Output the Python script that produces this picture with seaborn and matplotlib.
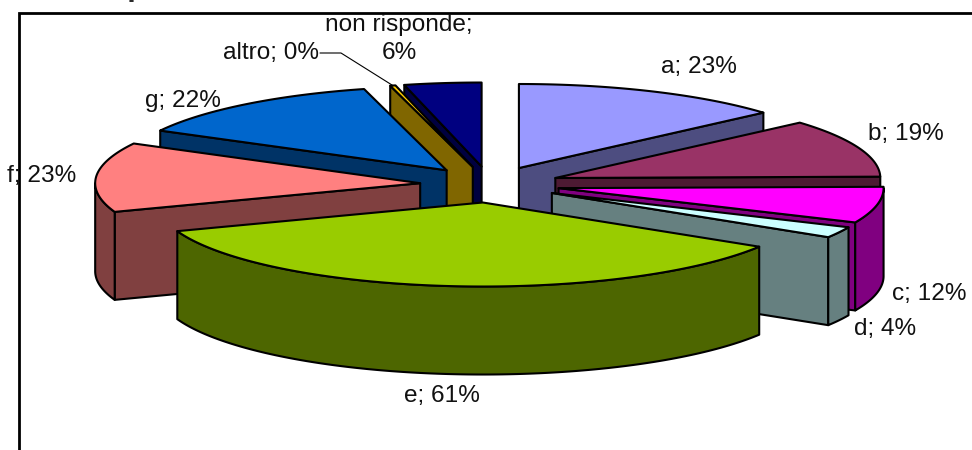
import numpy as np
import pandas as pd
import matplotlib
matplotlib.use("Agg")
import matplotlib.pyplot as plt
from matplotlib.patches import Polygon
import seaborn as sns

categories = ["a", "b", "c", "d", "e", "f", "g", "altro", "non risponde"]
values = [23, 19, 11.8, 3.6, 60.5, 22.7, 22.2, 0.45, 6.49]
labels = ["a; 23%", "b; 19%", "c; 12%", "d; 4%", "e; 61%", "f; 23%", "g; 22%",
          "altro; 0%", "non risponde;\n6%"]
colors = ["#9999FF", "#993366", "#FF00FF", "#CCFFFF", "#99CC00",
          "#FF8080", "#0066CC", "#FFCC00", "#000080"]

# where the labels sit, in pixels of the 972x450 picture
label_x = [699, 906, 929, 885, 442, 42, 183, 271, 399]
label_y = [67, 134, 294, 329, 396, 176, 101, 53, 39]

# pie geometry, also in pixels
CX, CY = 490, 184.5
R = 325
TILT = 0.2585
EXPLODE = 70
DEPTH = 88

sns.set_theme(style="white")
plt.rcParams["font.family"] = ["Liberation Sans", "DejaVu Sans"]

df = pd.DataFrame({"cat": categories, "value": values, "color": colors,
                   "label": labels, "lx": label_x, "ly": label_y})
df["angle"] = df["value"] / df["value"].sum() * 360
df["end"] = df["angle"].cumsum()
df["start"] = df["end"] - df["angle"]
df["mid"] = (df["start"] + df["end"]) / 2
df["apex_x"] = CX + EXPLODE * np.sin(np.radians(df["mid"]))
df["apex_y"] = CY - EXPLODE * TILT * np.cos(np.radians(df["mid"]))


def rim(row, a0, a1):
    t = np.radians(np.linspace(a0, a1, max(int(abs(a1 - a0) * 2), 2)))
    return np.column_stack([row.apex_x + R * np.sin(t),
                            row.apex_y - R * TILT * np.cos(t)])


def drop(pts):
    return pts + [0, DEPTH]


def wall(ax, pts, color):
    ax.add_patch(Polygon(pts, closed=True, fc=color, ec="black", lw=1.5, joinstyle="round"))


def shade(color):
    return tuple(c / 2 for c in matplotlib.colors.to_rgb(color))


fig = plt.figure(figsize=(9.72, 4.5), dpi=100)
ax = fig.add_axes([0, 0, 1, 1])
ax.set_xlim(0, 972)
ax.set_ylim(450, 0)
ax.axis("off")

# chart frame: only left and top show in the crop
ax.plot([19, 19, 973], [451, 12.5, 12.5], color="black", lw=2,
        solid_joinstyle="miter", clip_on=False)
# bit of the title that was cut off above the picture
ax.plot([129.5, 133], [0.7, 0.7], color="black", lw=1.2)

# paint back to front, the slice whose apex is highest first
for row in df.sort_values("apex_y").itertuples():
    side = shade(row.color)
    apex = np.array([[row.apex_x, row.apex_y]])
    edge0 = rim(row, row.start, row.start)[:1]
    edge1 = rim(row, row.end, row.end)[:1]
    if np.sin(np.radians(row.start)) < 0:
        flat = np.vstack([apex, edge0])
        wall(ax, np.vstack([flat, drop(flat)[::-1]]), side)
    if np.sin(np.radians(row.end)) > 0:
        flat = np.vstack([apex, edge1])
        wall(ax, np.vstack([flat, drop(flat)[::-1]]), side)
    # outer rim only shows on the front half
    a0, a1 = max(row.start, 90), min(row.end, 270)
    if a1 > a0:
        arc = rim(row, a0, a1)
        wall(ax, np.vstack([arc, drop(arc)[::-1]]), side)
    ax.add_patch(Polygon(np.vstack([apex, rim(row, row.start, row.end)]), closed=True,
                         fc=row.color, ec="black", lw=1.5, joinstyle="round"))

for row in df.itertuples():
    ax.text(row.lx, row.ly, row.label, fontsize=17.6, color="#111111", ha="center", va="center",
            linespacing=1.4)

# leader line for the sliver
altro = df[df["cat"] == "altro"].iloc[0]
tip = rim(altro, altro["mid"], altro["mid"])[0]
ax.plot([320, 341, tip[0]], [53, 53, tip[1]], color="black", lw=0.8)

fig.savefig("out.png", dpi=100)
